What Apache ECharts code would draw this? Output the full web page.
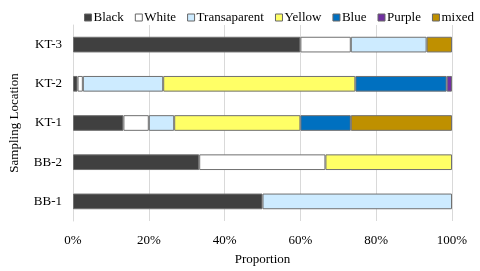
<!DOCTYPE html>
<html><head><meta charset="utf-8">
<script src="https://cdn.jsdelivr.net/npm/echarts@6/dist/echarts.min.js"></script>
<style>html,body{margin:0;padding:0;background:#fff}#c{width:480px;height:271px}</style>
</head><body><div id="c"></div>
<script>
const categories = ['BB-1', 'BB-2', 'KT-1', 'KT-2', 'KT-3'];
const seriesNames = ['Black', 'White', 'Transaparent', 'Yellow', 'Blue', 'Purple', 'mixed'];
const black = [50, 33.3, 13.3, 1.2, 60];
const white = [null, 33.3, 6.7, 1.4, 13.3];
const transparent = [50, null, 6.7, 21.2, 20];
const yellow = [null, 33.4, 33.3, 50.7, null];
const blue = [null, null, 13.3, 24.1, null];
const purple = [null, null, null, 1.4, null];
const mixed = [null, null, 26.7, null, 6.7];
const xTicks = [0, 20, 40, 60, 80, 100];
const colors = ['#404040', '#ffffff', '#cdebff', '#ffff66', '#0070c0', '#7030a0', '#bf9000'];
const values = [black, white, transparent, yellow, blue, purple, mixed];

const font = 'Liberation Serif';
const fs = 13;
const chart = echarts.init(document.getElementById('c'));
chart.setOption({
  animation: false,
  textStyle: {fontFamily: font},
  legend: {
    top: 6, left: 79, itemWidth: 7, itemHeight: 7, itemGap: 11,
    icon: 'rect',
    textStyle: {fontFamily: font, fontSize: fs, color: '#000', padding: [0, 0, 0, -3]},
    data: seriesNames.map((n, i) => ({name: n, itemStyle: {color: colors[i], borderColor: '#666', borderWidth: 1}}))
  },
  grid: {left: 71, right: 28, top: 25, bottom: 46},
  xAxis: {
    type: 'value', min: 0, max: 100, interval: 20,
    name: 'Proportion', nameLocation: 'middle', nameGap: 32,
    nameTextStyle: {fontFamily: font, fontSize: fs, color: '#000'},
    axisLine: {show: false}, axisTick: {show: false},
    axisLabel: {fontFamily: font, fontSize: fs, color: '#000', margin: 13,
      formatter: v => xTicks.includes(v) ? v + '%' : ''},
    splitLine: {show: true, lineStyle: {color: '#d9d9d9', width: 1}}
  },
  yAxis: {
    type: 'category', data: categories,
    name: 'Sampling Location', nameLocation: 'middle', nameGap: 52,
    nameTextStyle: {fontFamily: font, fontSize: fs, color: '#000'},
    axisLine: {show: true, lineStyle: {color: '#d9d9d9'}}, axisTick: {show: false},
    axisLabel: {fontFamily: font, fontSize: fs, color: '#000', margin: 11}
  },
  series: seriesNames.map((n, i) => ({
    name: n, type: 'bar', stack: 'total', barWidth: '40%',
    itemStyle: {color: colors[i], borderColor: '#707070', borderWidth: 1},
    data: values[i]
  }))
});
</script></body></html>
